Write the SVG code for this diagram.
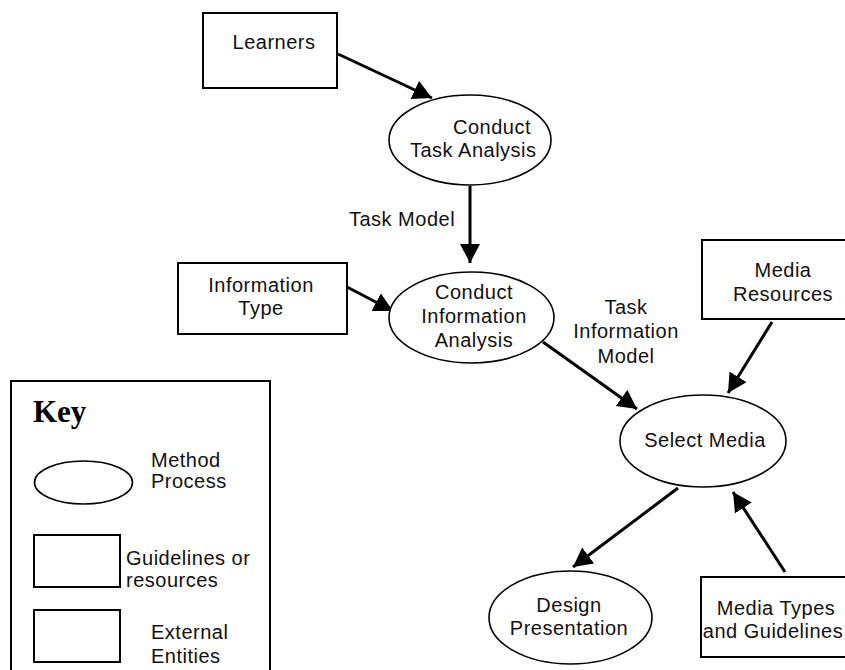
<svg xmlns="http://www.w3.org/2000/svg" width="845" height="670" viewBox="0 0 845 670">
  <style>
    .box { fill: #ffffff; stroke: #000000; stroke-width: 2; }
    .proc { fill: #ffffff; stroke: #000000; stroke-width: 1.6; }
    .lbl { font-family: "Liberation Sans", Arial, sans-serif; font-size: 20px; letter-spacing: 0.5px; fill: #111111; }
    .mid { text-anchor: middle; }
    .edge { stroke: #000000; stroke-width: 3; fill: none; marker-end: url(#arrow); }
    .key { font-family: "Liberation Serif", "Times New Roman", serif; font-size: 31px; font-weight: bold; fill: #000000; }
  </style>
  <defs>
    <marker id="arrow" markerUnits="userSpaceOnUse" markerWidth="22" markerHeight="22" refX="19" refY="10" orient="auto">
      <path d="M0,0 L19,10 L0,20 Z" fill="#000000"/>
    </marker>
  </defs>
  <rect width="845" height="670" fill="#ffffff"/>

  <!-- connectors -->
  <g id="connectors">
    <line class="edge" x1="338" y1="54" x2="432" y2="98"/>
    <line class="edge" x1="470" y1="186" x2="470" y2="263"/>
    <line class="edge" x1="347" y1="287" x2="393" y2="311"/>
    <line class="edge" x1="543" y1="342" x2="637" y2="409"/>
    <line class="edge" x1="772" y1="322" x2="728" y2="393"/>
    <line class="edge" x1="678" y1="488" x2="573" y2="567"/>
    <line class="edge" x1="785" y1="572" x2="733" y2="492"/>
    <text class="lbl mid" x="402" y="226">Task Model</text>
    <g class="lbl mid">
      <text x="626" y="314">Task</text>
      <text x="626" y="338">Information</text>
      <text x="626" y="363">Model</text>
    </g>
  </g>

  <g id="learners">
    <rect class="box" x="203" y="13" width="134" height="75"/>
    <text class="lbl mid" x="274" y="49">Learners</text>
  </g>

  <g id="conduct-task-analysis">
    <ellipse class="proc" cx="470" cy="140" rx="81" ry="45"/>
    <text class="lbl" x="453" y="134">Conduct</text>
    <text class="lbl" x="410" y="157">Task Analysis</text>
  </g>

  <g id="information-type">
    <rect class="box" x="178" y="263" width="169" height="71"/>
    <text class="lbl mid" x="261" y="292">Information</text>
    <text class="lbl mid" x="261" y="315">Type</text>
  </g>

  <g id="conduct-information-analysis">
    <ellipse class="proc" cx="471.5" cy="317.5" rx="82.5" ry="45.5"/>
    <text class="lbl mid" x="474" y="299">Conduct</text>
    <text class="lbl mid" x="474" y="323">Information</text>
    <text class="lbl mid" x="474" y="347">Analysis</text>
  </g>

  <g id="media-resources">
    <rect class="box" x="702" y="240" width="160" height="79"/>
    <text class="lbl mid" x="783" y="277">Media</text>
    <text class="lbl mid" x="783" y="301">Resources</text>
  </g>

  <g id="select-media">
    <ellipse class="proc" cx="703" cy="441" rx="83" ry="46"/>
    <text class="lbl mid" x="705" y="447">Select Media</text>
  </g>

  <g id="design-presentation">
    <ellipse class="proc" cx="570.5" cy="617.5" rx="81.5" ry="46.5"/>
    <text class="lbl mid" x="569" y="612">Design</text>
    <text class="lbl mid" x="569" y="635">Presentation</text>
  </g>

  <g id="media-types">
    <rect class="box" x="701" y="577" width="160" height="80"/>
    <text class="lbl mid" x="776" y="615">Media Types</text>
    <text class="lbl mid" x="773" y="638">and Guidelines</text>
  </g>

  <g id="key">
    <rect class="box" x="11" y="381" width="259" height="300"/>
    <text class="key" x="33" y="422">Key</text>
    <ellipse class="proc" cx="83.5" cy="482.5" rx="49" ry="21.5"/>
    <text class="lbl" x="151" y="467">Method</text>
    <text class="lbl" x="151" y="488">Process</text>
    <rect class="box" x="34" y="535" width="86" height="52"/>
    <text class="lbl" x="126" y="565">Guidelines or</text>
    <text class="lbl" x="126" y="587">resources</text>
    <rect class="box" x="34" y="610" width="86" height="52"/>
    <text class="lbl" x="151" y="639">External</text>
    <text class="lbl" x="151" y="663">Entities</text>
  </g>
</svg>
